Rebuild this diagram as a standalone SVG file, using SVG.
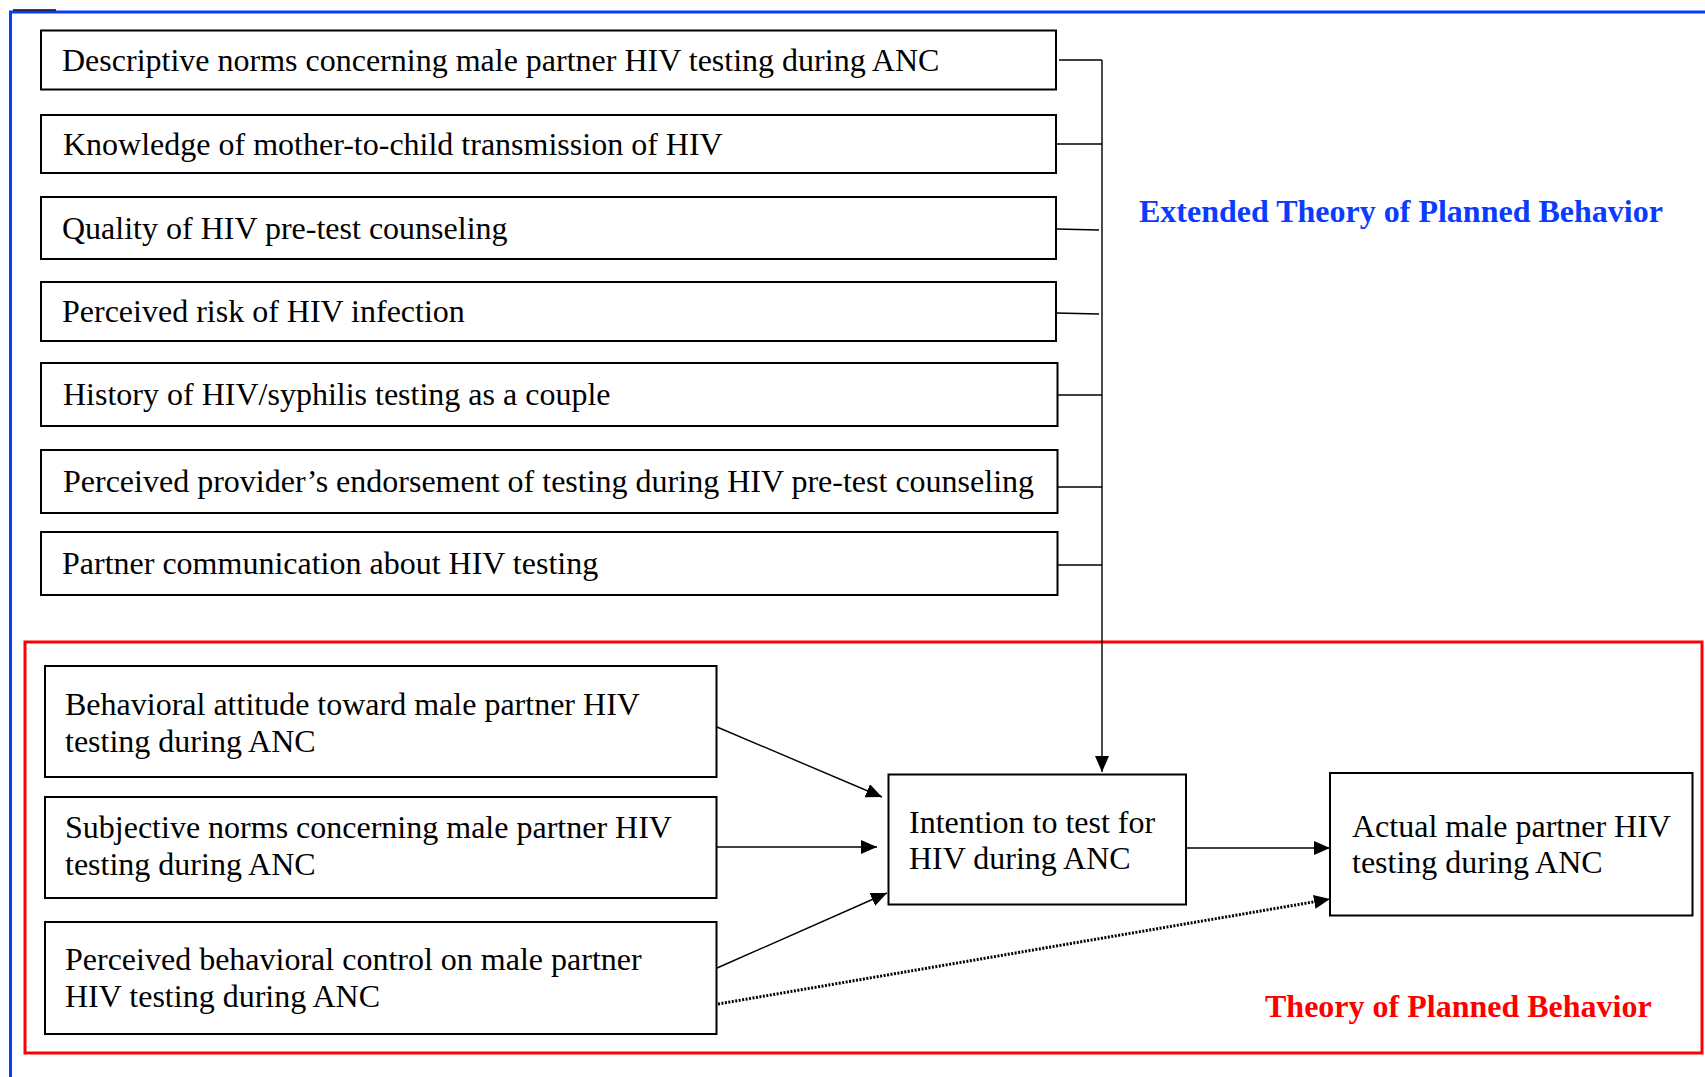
<svg xmlns="http://www.w3.org/2000/svg" width="1705" height="1077" viewBox="0 0 1705 1077">
<style>
.box{fill:#fff;stroke:#000;stroke-width:2}
.t{font-family:"Liberation Serif","Times New Roman",serif;font-size:32px;fill:#000}
.c{fill:none;stroke:#000;stroke-width:1.4}
.lbl{font-family:"Liberation Serif","Times New Roman",serif;font-size:32px;font-weight:bold}
</style>
<defs>
<marker id="ah" markerUnits="userSpaceOnUse" markerWidth="17" markerHeight="15" refX="16" refY="7" orient="auto">
<path d="M0,0 L16,7 L0,14 z" fill="#000"/>
</marker>
</defs>
<rect width="1705" height="1077" fill="#fff"/>
<g id="frames">
<path d="M10.5,1077 L10.5,12 L1705,12" fill="none" stroke="#0a3cff" stroke-width="3"/>
<line x1="13" y1="10" x2="56" y2="10" stroke="#000" stroke-width="1.5"/>
<rect x="25" y="642" width="1677" height="411" fill="none" stroke="#ff0000" stroke-width="3"/>
</g>
<g id="labels">
<text class="lbl" x="1139" y="222" fill="#0a3cff">Extended Theory of Planned Behavior</text>
<text class="lbl" x="1265" y="1017" fill="#ff0000">Theory of Planned Behavior</text>
</g>
<g id="connectors">
<path class="c" d="M1059,60 L1102,60 M1056,144 L1102,144 M1056,229 L1099,230 M1056,313 L1099,314 M1057,395 L1102,395 M1057,487 L1102,487 M1057,565 L1102,565"/>
<path class="c" d="M1102,60 L1102,772" marker-end="url(#ah)"/>
<path class="c" d="M717,727 L882,797" marker-end="url(#ah)"/>
<path class="c" d="M717,847 L877,847" marker-end="url(#ah)"/>
<path class="c" d="M717,968 L887,893" marker-end="url(#ah)"/>
<path class="c" d="M1186,848 L1330,848" marker-end="url(#ah)"/>
<path d="M718,1004 L1316,901.5" fill="none" stroke="#000" stroke-width="3" stroke-dasharray="2 1.5"/>
<path d="M1316,901.5 L1330,899" fill="none" stroke="#000" stroke-width="1" marker-end="url(#ah)"/>
</g>
<g id="n1"><rect class="box" x="41" y="30.5" width="1015" height="59"/><text class="t" x="62" y="71">Descriptive norms concerning male partner HIV testing during ANC</text></g>
<g id="n2"><rect class="box" x="41" y="115" width="1015" height="58"/><text class="t" x="63" y="155">Knowledge of mother-to-child transmission of HIV</text></g>
<g id="n3"><rect class="box" x="41" y="197" width="1015" height="62"/><text class="t" x="62" y="239">Quality of HIV pre-test counseling</text></g>
<g id="n4"><rect class="box" x="41" y="282" width="1015" height="59"/><text class="t" x="62" y="322">Perceived risk of HIV infection</text></g>
<g id="n5"><rect class="box" x="41" y="363" width="1016.5" height="63"/><text class="t" x="63" y="405">History of HIV/syphilis testing as a couple</text></g>
<g id="n6"><rect class="box" x="41" y="450" width="1016.5" height="63"/><text class="t" x="63" y="492">Perceived provider’s endorsement of testing during HIV pre-test counseling</text></g>
<g id="n7"><rect class="box" x="41" y="532" width="1016.5" height="63"/><text class="t" x="62" y="574">Partner communication about HIV testing</text></g>
<g id="a"><rect class="box" x="45" y="666" width="671.5" height="111"/><text class="t" x="65" y="715">Behavioral attitude toward male partner HIV</text><text class="t" x="65" y="752">testing during ANC</text></g>
<g id="b"><rect class="box" x="45" y="797" width="671.5" height="101"/><text class="t" x="65" y="838">Subjective norms concerning male partner HIV</text><text class="t" x="65" y="875">testing during ANC</text></g>
<g id="c"><rect class="box" x="45" y="922" width="671.5" height="112"/><text class="t" x="65" y="970">Perceived behavioral control on male partner</text><text class="t" x="65" y="1007">HIV testing during ANC</text></g>
<g id="intention"><rect class="box" x="888.5" y="774.5" width="297.5" height="130"/><text class="t" x="909" y="833">Intention to test for</text><text class="t" x="909" y="869">HIV during ANC</text></g>
<g id="actual"><rect class="box" x="1330" y="773" width="362.5" height="142.5"/><text class="t" x="1352" y="837">Actual male partner HIV</text><text class="t" x="1352" y="873">testing during ANC</text></g>
</svg>
